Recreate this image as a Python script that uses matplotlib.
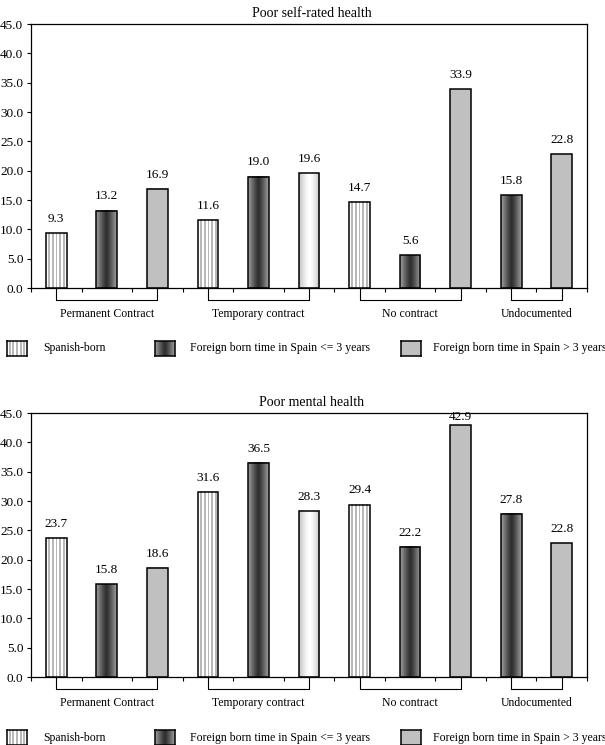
import numpy as np
import matplotlib.pyplot as plt

plt.rcParams['font.family'] = ['Liberation Serif', 'DejaVu Serif']

# data, one entry per bar from left to right
groups = ['Permanent Contract', 'Temporary contract', 'No contract', 'Undocumented']
series = ['Spanish-born', 'Foreign born time in Spain <= 3 years',
          'Foreign born time in Spain > 3 years']
bar_group = [0, 0, 0, 1, 1, 1, 2, 2, 2, 3, 3]
self_rated = [9.3, 13.2, 16.9, 11.6, 19.0, 19.6, 14.7, 5.6, 33.9, 15.8, 22.8]
mental = [23.7, 15.8, 18.6, 31.6, 36.5, 28.3, 29.4, 22.2, 42.9, 27.8, 22.8]
titles = ['Poor self-rated health', 'Poor mental health']
yticks = np.arange(0, 46, 5)

# fill look of each bar
bar_fill = ['stripes', 'dark', 'flat', 'stripes', 'dark', 'light',
            'stripes', 'dark', 'flat', 'dark', 'flat']
legend_fill = ['stripes', 'dark', 'flat']


def pattern(kind):
    if kind == 'stripes':
        row = np.where(np.arange(11) % 2 == 0, 1.0, 0.72)
        return row[None, :], 'nearest'
    x = np.linspace(-1, 1, 40)
    if kind == 'dark':
        row = 0.18 + 0.45 * np.abs(x) ** 1.2
    elif kind == 'light':
        row = 1.0 - 0.25 * np.abs(x) ** 1.5
    else:
        row = np.full(4, 0.75)
    return row[None, :], 'bilinear'


def draw_chart(ax, vals, title):
    vals = np.array(vals)
    xs = np.arange(len(vals))
    w = 0.41
    for x, v, kind in zip(xs, vals, bar_fill):
        img, interp = pattern(kind)
        ax.imshow(img, cmap='gray', vmin=0, vmax=1, aspect='auto',
                  interpolation=interp, extent=(x - w / 2, x + w / 2, 0, v), zorder=2)
    ax.bar(xs, vals, width=w, fill=False, edgecolor='black', linewidth=1.1, zorder=3)

    # value labels, kept inside the frame
    ly = np.minimum(vals + 2.4, 44.35)
    for x, v, y in zip(xs, vals, ly):
        ax.text(x, y, '%.1f' % v, ha='center', va='center', fontsize=9.5)

    ax.set_xlim(-0.5, len(vals) - 0.5)
    ax.set_ylim(0, 45)
    ax.set_yticks(yticks)
    ax.set_yticklabels(['%.1f' % t for t in yticks], fontsize=9.5)
    ax.set_xticks(np.arange(len(vals) + 1) - 0.5)
    ax.set_xticklabels([])
    ax.tick_params(direction='out', length=3, width=0.8, pad=2.5)
    for s in ax.spines.values():
        s.set_linewidth(0.9)
    ax.set_title(title, fontsize=10, pad=5, x=0.505)

    # group brackets under the axis
    tr = ax.get_xaxis_transform()
    bg = np.array(bar_group)
    for g, name in enumerate(groups):
        members = xs[bg == g]
        x0, x1 = members.min(), members.max()
        ax.plot([x0, x0, x1, x1], [0, -0.045, -0.045, 0], color='black',
                lw=0.8, transform=tr, clip_on=False)
        ax.text((x0 + x1) / 2, -0.099, name, transform=tr, ha='center',
                va='center', fontsize=8.5)


def draw_legend(fig, top_px):
    W, H = 605.0, 745.0
    sw_x = [7, 155, 401]
    tx_x = [43, 190, 433]
    for sx, tx, kind, name in zip(sw_x, tx_x, legend_fill, series):
        sa = fig.add_axes([sx / W, (H - top_px - 15) / H, 20 / W, 15 / H])
        img, interp = pattern(kind)
        sa.imshow(img, cmap='gray', vmin=0, vmax=1, aspect='auto', interpolation=interp)
        sa.set_xticks([])
        sa.set_yticks([])
        for s in sa.spines.values():
            s.set_linewidth(1.1)
        fig.text(tx / W, (H - top_px - 7.5) / H, name, ha='left', va='center', fontsize=8.5)


fig = plt.figure(figsize=(6.05, 7.45), dpi=100)
ax1 = fig.add_axes([31 / 605, 457 / 745, 556 / 605, 264 / 745])
ax2 = fig.add_axes([31 / 605, 68 / 745, 556 / 605, 264 / 745])

draw_chart(ax1, self_rated, titles[0])
draw_chart(ax2, mental, titles[1])
draw_legend(fig, 341)
draw_legend(fig, 730)

plt.savefig('out.png', dpi=100)
